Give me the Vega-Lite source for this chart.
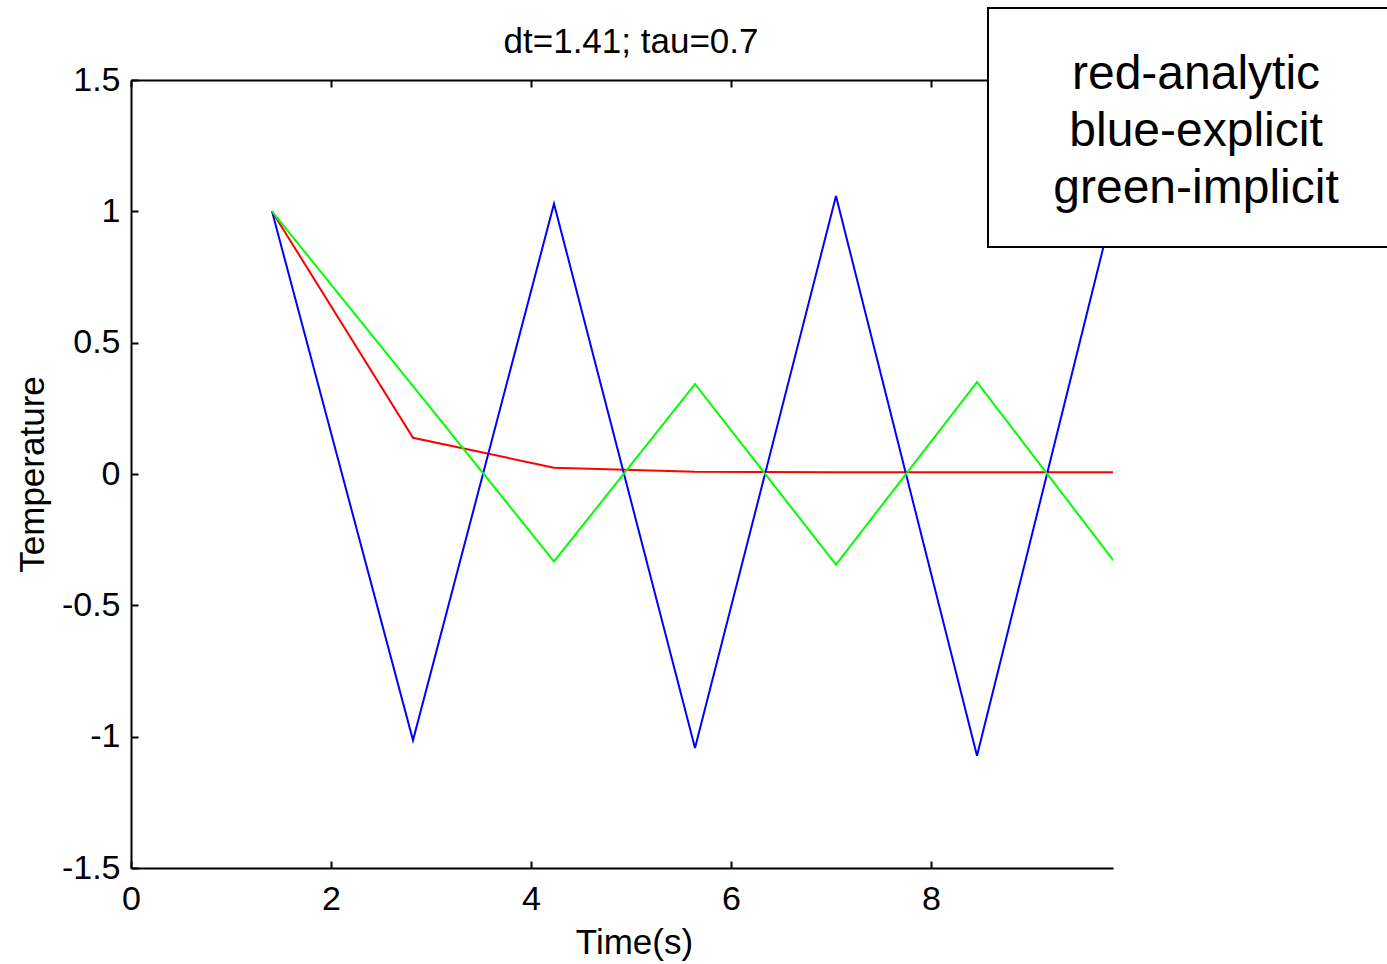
{
  "$schema": "https://vega.github.io/schema/vega-lite/v6.json",
  "width": 982,
  "height": 788,
  "autosize": {"type": "none"},
  "padding": {"left": 131, "top": 80, "right": 274, "bottom": 96},
  "background": "white",
  "config": {
    "view": {"stroke": null},
    "font": "Liberation Sans",
    "axis": {
      "grid": false,
      "domainColor": "black",
      "domainWidth": 2,
      "tickColor": "black",
      "tickWidth": 2,
      "tickSize": -7,
      "labelColor": "black",
      "labelFont": "Liberation Sans",
      "labelFontSize": 34,
      "labelFlush": false,
      "labelOverlap": false,
      "titleFont": "Liberation Sans",
      "titleFontSize": 35,
      "titleFontWeight": "normal",
      "titleColor": "black",
      "labelExpr": "'' + datum.value"
    }
  },
  "title": {
    "text": "dt=1.41; tau=0.7",
    "font": "Liberation Sans",
    "fontSize": 35,
    "fontWeight": "normal",
    "color": "black",
    "anchor": "middle",
    "frame": "group",
    "baseline": "alphabetic",
    "offset": -81,
    "dx": 9
  },
  "datasets": {
    "series": [
      {"method": "analytic", "t": 1.41, "T": 1},
      {"method": "analytic", "t": 2.82, "T": 0.138},
      {"method": "analytic", "t": 4.23, "T": 0.024},
      {"method": "analytic", "t": 5.64, "T": 0.009},
      {"method": "analytic", "t": 7.05, "T": 0.007},
      {"method": "analytic", "t": 8.46, "T": 0.007},
      {"method": "analytic", "t": 9.87, "T": 0.007},
      {"method": "explicit", "t": 1.41, "T": 1},
      {"method": "explicit", "t": 2.82, "T": -1.014},
      {"method": "explicit", "t": 4.23, "T": 1.029},
      {"method": "explicit", "t": 5.64, "T": -1.043},
      {"method": "explicit", "t": 7.05, "T": 1.058},
      {"method": "explicit", "t": 8.46, "T": -1.073},
      {"method": "explicit", "t": 9.87, "T": 1.088},
      {"method": "implicit", "t": 1.41, "T": 1},
      {"method": "implicit", "t": 2.82, "T": 0.335},
      {"method": "implicit", "t": 4.23, "T": -0.333},
      {"method": "implicit", "t": 5.64, "T": 0.342},
      {"method": "implicit", "t": 7.05, "T": -0.345},
      {"method": "implicit", "t": 8.46, "T": 0.35},
      {"method": "implicit", "t": 9.87, "T": -0.352}
    ],
    "legendbox": [
      {"x1": 8.57, "x2": 12.7, "y1": 1.774, "y2": 0.864}
    ],
    "legendtext": [
      {"label": "red-analytic", "x": 10.65, "y": 1.4657},
      {"label": "blue-explicit", "x": 10.65, "y": 1.2487},
      {"label": "green-implicit", "x": 10.65, "y": 1.0317}
    ]
  },
  "resolve": {"axis": {"x": "independent", "y": "independent"}},
  "layer": [
    {
      "data": {"name": "series"},
      "mark": {"type": "line", "strokeWidth": 2, "clip": true},
      "encoding": {
        "x": {
          "field": "t", "type": "quantitative",
          "scale": {"domain": [0, 9.82], "nice": false, "zero": false},
          "axis": {
            "orient": "bottom",
            "values": [0, 2, 4, 6, 8],
            "labelPadding": 21,
            "title": "Time(s)",
            "titleX": 503,
            "titleY": 85,
            "titleAlign": "center",
            "titleBaseline": "alphabetic"
          }
        },
        "y": {
          "field": "T", "type": "quantitative",
          "scale": {"domain": [-1.5, 1.5], "nice": false, "zero": false},
          "axis": {
            "orient": "left",
            "values": [-1.5, -1, -0.5, 0, 0.5, 1, 1.5],
            "labelPadding": 18,
            "title": "Temperature",
            "titleAngle": -90,
            "titleX": -88,
            "titleY": 394,
            "titleAlign": "center",
            "titleBaseline": "alphabetic"
          }
        },
        "color": {
          "field": "method", "type": "nominal",
          "scale": {"domain": ["analytic", "explicit", "implicit"], "range": ["#ff0000", "#0000ff", "#00ff00"]},
          "legend": null
        }
      }
    },
    {
      "data": {"name": "series"},
      "mark": {"type": "point", "opacity": 0, "clip": true},
      "encoding": {
        "x": {
          "field": "t", "type": "quantitative",
          "axis": {"orient": "top", "values": [0, 2, 4, 6, 8], "labels": false, "title": null}
        },
        "y": {"field": "T", "type": "quantitative", "axis": null}
      }
    },
    {
      "data": {"name": "legendbox"},
      "mark": {"type": "rect", "fill": "white", "stroke": "black", "strokeWidth": 2, "clip": false},
      "encoding": {
        "x": {"field": "x1", "type": "quantitative", "axis": null},
        "x2": {"field": "x2"},
        "y": {"field": "y1", "type": "quantitative", "axis": null},
        "y2": {"field": "y2"}
      }
    },
    {
      "data": {"name": "legendtext"},
      "mark": {"type": "text", "fontSize": 48, "font": "Liberation Sans", "align": "center", "baseline": "alphabetic", "color": "black", "clip": false},
      "encoding": {
        "x": {"field": "x", "type": "quantitative", "axis": null},
        "y": {"field": "y", "type": "quantitative", "axis": null},
        "text": {"field": "label"}
      }
    }
  ]
}
